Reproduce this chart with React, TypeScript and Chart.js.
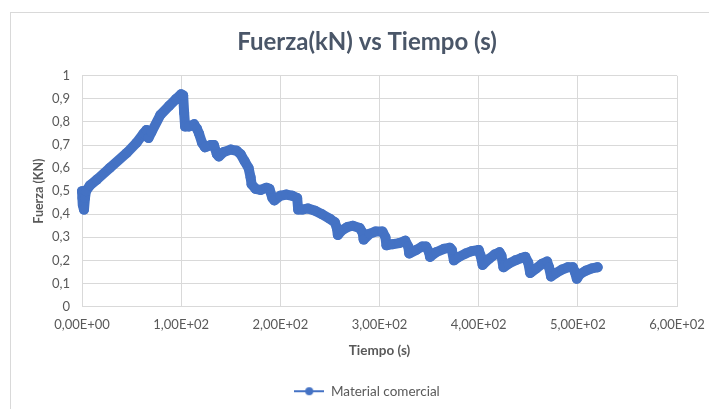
import React, { useEffect, useRef } from "react";
import { Chart, registerables } from "chart.js";

Chart.register(...registerables);

const chartTitle = "Fuerza(kN) vs Tiempo (s)";
const seriesName = "Material comercial";
const xAxisTitle = "Tiempo (s)";
const yAxisTitle = "Fuerza (KN)";

const xTickValues = [0, 100, 200, 300, 400, 500, 600];
const xTickLabels = ["0,00E+00", "1,00E+02", "2,00E+02", "3,00E+02", "4,00E+02", "5,00E+02", "6,00E+02"];
const yTickValues = [0, 0.1, 0.2, 0.3, 0.4, 0.5, 0.6, 0.7, 0.8, 0.9, 1];
const yTickLabels = ["0", "0,1", "0,2", "0,3", "0,4", "0,5", "0,6", "0,7", "0,8", "0,9", "1"];

const timeS = [
  0, 0.5, 1, 2, 3, 4, 8, 15, 28, 45, 55, 62, 65, 67, 70, 79, 88, 95, 100, 102,
  103, 104, 108, 113, 116, 118, 121, 124, 130, 133, 136, 138, 143, 150, 156, 160, 164, 168, 170, 171,
  175, 180, 186, 189, 192, 194, 200, 206, 212, 217, 218, 222, 228, 235, 242, 250, 255, 257, 258, 262,
  268, 273, 280, 283, 284, 290, 296, 303, 306, 307, 313, 320, 326, 329, 330, 337, 343, 347, 350, 351,
  357, 365, 371, 373, 375, 380, 387, 393, 400, 402, 404, 410, 416, 421, 423, 425, 430, 437, 443, 447,
  450, 452, 458, 464, 469, 471, 473, 478, 484, 490, 495, 497, 499, 502, 508, 514, 520,
];
const forceKN = [
  0.5, 0.47, 0.44, 0.42, 0.47, 0.5, 0.525, 0.55, 0.6, 0.665, 0.71, 0.75, 0.765, 0.73, 0.755, 0.83, 0.87, 0.9, 0.92, 0.915,
  0.84, 0.78, 0.78, 0.79, 0.77, 0.75, 0.71, 0.69, 0.7, 0.7, 0.66, 0.65, 0.67, 0.68, 0.675, 0.66, 0.63, 0.6, 0.56, 0.53,
  0.51, 0.505, 0.515, 0.51, 0.47, 0.46, 0.48, 0.485, 0.48, 0.47, 0.42, 0.42, 0.425, 0.415, 0.4, 0.38, 0.365, 0.34, 0.31, 0.33,
  0.345, 0.35, 0.34, 0.32, 0.29, 0.315, 0.325, 0.325, 0.3, 0.265, 0.27, 0.275, 0.285, 0.26, 0.23, 0.245, 0.26, 0.26, 0.235, 0.215,
  0.235, 0.25, 0.255, 0.245, 0.2, 0.215, 0.23, 0.24, 0.245, 0.22, 0.18, 0.205, 0.225, 0.235, 0.22, 0.17, 0.185, 0.2, 0.21, 0.215,
  0.19, 0.145, 0.165, 0.185, 0.195, 0.17, 0.13, 0.145, 0.16, 0.17, 0.17, 0.15, 0.12, 0.14, 0.155, 0.165, 0.17,
];

const BLUE = "#4472C4";
const FONT = "Lato, 'Open Sans', sans-serif";

function makeLegendIcon(): HTMLCanvasElement {
  const c = document.createElement("canvas");
  c.width = 30;
  c.height = 10;
  const ctx = c.getContext("2d")!;
  ctx.strokeStyle = BLUE;
  ctx.lineWidth = 2;
  ctx.beginPath();
  ctx.moveTo(0, 5);
  ctx.lineTo(30, 5);
  ctx.stroke();
  ctx.fillStyle = BLUE;
  ctx.beginPath();
  ctx.arc(15, 5, 4, 0, Math.PI * 2);
  ctx.fill();
  return c;
}

const borderPlugin = {
  id: "outerBorder",
  beforeDraw(chart: any) {
    const ctx = chart.ctx;
    ctx.save();
    ctx.fillStyle = "#ffffff";
    ctx.fillRect(0, 0, chart.width, chart.height);
    ctx.strokeStyle = "#D9D9D9";
    ctx.lineWidth = 1;
    ctx.strokeRect(10.5, 12.5, chart.width + 10, chart.height + 10);
    ctx.restore();
  },
  afterLayout(chart: any) {
    // centre title and legend on the (cropped) chart frame, as in the reference
    const shift = (b: any) => {
      if (!b) return;
      b.left = 25;
      b.right = chart.width;
      b.width = b.right - b.left;
    };
    shift(chart.titleBlock);
    shift(chart.legend);
  },
};

export default function App() {
  const ref = useRef<HTMLCanvasElement>(null);
  useEffect(() => {
    document.body.style.margin = "0";
    const icon = makeLegendIcon();
    const data = timeS.map((t, i) => ({ x: t, y: forceKN[i] }));
    const chart = new Chart(ref.current!, {
      type: "scatter",
      data: {
        datasets: [
          {
            label: seriesName,
            data,
            showLine: true,
            borderColor: BLUE,
            backgroundColor: BLUE,
            borderWidth: 10,
            borderJoinStyle: "round",
            borderCapStyle: "round",
            pointRadius: 5,
            pointBorderWidth: 0,
            pointBorderColor: BLUE,
            pointBackgroundColor: BLUE,
            clip: false,
          } as any,
        ],
      },
      options: {
        responsive: false,
        animation: false,
        layout: { padding: { left: 10, right: 32, top: 0, bottom: 1 } },
        plugins: {
          title: {
            display: true,
            text: chartTitle,
            color: "#4A5668",
            font: { family: FONT, size: 24, weight: "bold" },
            padding: { top: 28, bottom: 19 },
          },
          legend: {
            display: true,
            position: "bottom",
            labels: {
              color: "#595959",
              font: { family: FONT, size: 13.5 },
              usePointStyle: true,
              pointStyleWidth: 30,
              boxWidth: 30,
              boxHeight: 10,
              generateLabels: () => [
                {
                  text: seriesName,
                  fillStyle: BLUE,
                  strokeStyle: BLUE,
                  lineWidth: 0,
                  pointStyle: icon,
                  hidden: false,
                  datasetIndex: 0,
                  fontColor: "#595959",
                },
              ],
            },
          },
          tooltip: { enabled: false },
        },
        scales: {
          x: {
            type: "linear",
            min: 0,
            max: 600,
            afterBuildTicks: (s: any) => {
              s.ticks = xTickValues.map((v) => ({ value: v }));
            },
            afterFit: (s: any) => {
              s.height = 68;
              s.paddingRight = 0;
              s.paddingLeft = 0;
            },
            ticks: {
              color: "#595959",
              font: { family: FONT, size: 13 },
              padding: 11,
              maxRotation: 0,
              autoSkip: false,
              callback: (v: any) => {
                const i = xTickValues.indexOf(Number(v));
                return i >= 0 ? xTickLabels[i] : "";
              },
            },
            grid: { color: "#D9D9D9", drawTicks: false },
            border: { color: "#D9D9D9" },
            title: {
              display: true,
              text: xAxisTitle,
              color: "#595959",
              font: { family: FONT, size: 13.5, weight: "bold" },
              padding: { top: 4, bottom: 16 },
            },
          },
          y: {
            type: "linear",
            min: 0,
            max: 1,
            afterBuildTicks: (s: any) => {
              s.ticks = yTickValues.map((v) => ({ value: v }));
            },
            afterFit: (s: any) => {
              s.width = 72;
            },
            ticks: {
              color: "#595959",
              font: { family: FONT, size: 13 },
              padding: 12,
              autoSkip: false,
              callback: (v: any) => {
                const i = yTickValues.findIndex((t) => Math.abs(t - Number(v)) < 1e-9);
                return i >= 0 ? yTickLabels[i] : "";
              },
            },
            grid: { color: "#D9D9D9", drawTicks: false },
            border: { color: "#D9D9D9" },
            title: {
              display: true,
              text: yAxisTitle,
              color: "#595959",
              font: { family: FONT, size: 12.5, weight: "bold" },
              padding: { top: 21, bottom: 0 },
            },
          },
        },
      },
      plugins: [borderPlugin],
    });
    return () => chart.destroy();
  }, []);
  return (
    <div style={{ width: 709, height: 409, position: "relative" }}>
      <canvas ref={ref} width={709} height={409} style={{ display: "block", width: 709, height: 409 }} />
    </div>
  );
}
